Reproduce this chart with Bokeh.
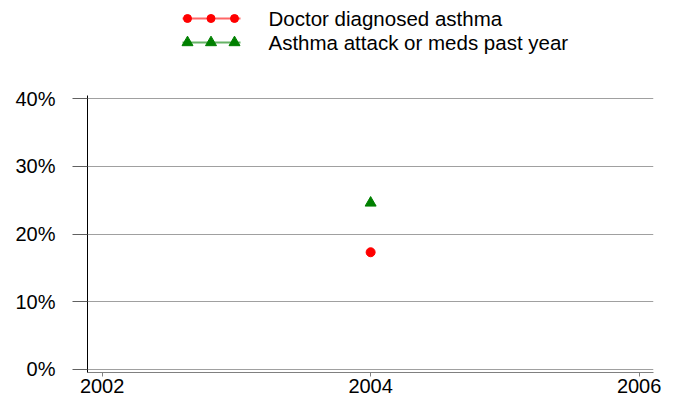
from bokeh.plotting import figure
from bokeh.layouts import column
from bokeh.models import Range1d, FixedTicker, PrintfTickFormatter
from bokeh.core.properties import value
from bokeh.embed import file_html
from bokeh.resources import INLINE

# Survey results
years = [2004]
doctor_diagnosed = [17.3]
attack_or_meds = [24.6]
series_labels = ["Doctor diagnosed asthma", "Asthma attack or meds past year"]
y_ticks = [0, 10, 20, 30, 40]
x_ticks = [2002, 2004, 2006]

FONT = "Liberation Sans"
RED = "#ff0000"
GREEN = "#008000"

# ---- legend strip: frame shares the chart's left/right edges,
# x in page pixels, y grows downward ----
leg = figure(width=673, height=75, x_range=Range1d(87, 653), y_range=Range1d(75, 0),
             output_backend="svg", toolbar_location=None,
             x_axis_location=None, y_axis_location=None,
             min_border_left=87, min_border_right=20, min_border_top=0, min_border_bottom=0,
             outline_line_color=None)
leg.grid.visible = False

rows = [(18, RED, "circle", 8), (42, GREEN, "triangle", 11)]
for (yy, col, mk, sz), lab in zip(rows, series_labels):
    leg.line([182, 240], [yy, yy], line_color=col, line_width=2, line_alpha=0.6)
    leg.scatter([187, 210.5, 234], [yy] * 3, marker=mk, size=sz,
                fill_color=col, line_color=col)
    leg.text([268], [yy], text=[lab], text_font=value(FONT), text_font_size="20.5px",
             text_baseline="middle", text_align="left", text_color="#000000")

# ---- main chart ----
p = figure(frame_width=566, frame_height=277,
           x_range=Range1d(2001.891, 2006.107), y_range=Range1d(-0.49, 40.49),
           output_backend="svg", toolbar_location=None,
           min_border_left=87, min_border_right=20, min_border_top=20, min_border_bottom=28,
           outline_line_color=None)

p.scatter(years, doctor_diagnosed, marker="circle", size=9, fill_color=RED, line_color=RED)
p.scatter(years, attack_or_meds, marker="triangle", size=11, fill_color=GREEN, line_color=GREEN)

p.xgrid.visible = False
p.ygrid.grid_line_color = "#a0a0a0"
p.ygrid.grid_line_width = 1

p.yaxis.ticker = FixedTicker(ticks=y_ticks)
p.yaxis.formatter = PrintfTickFormatter(format="%d%%")
p.yaxis.axis_line_color = "#000000"
p.yaxis.major_tick_line_color = "#606060"
p.yaxis.major_tick_out = 15
p.yaxis.major_tick_in = 0
p.yaxis.minor_tick_line_color = None
p.yaxis.major_label_standoff = 17

p.xaxis.ticker = FixedTicker(ticks=x_ticks)
p.xaxis.axis_line_color = "#808080"
p.xaxis.major_tick_line_color = "#808080"
p.xaxis.major_tick_out = 4
p.xaxis.major_tick_in = 0
p.xaxis.minor_tick_line_color = None
p.xaxis.major_label_standoff = 2

for ax in (p.xaxis, p.yaxis):
    ax.major_label_text_font = FONT
    ax.major_label_text_font_size = "20px"
    ax.major_label_text_color = "#000000"

layout = column(leg, p, spacing=0)
open("out.html", "w").write(file_html(layout, INLINE))
